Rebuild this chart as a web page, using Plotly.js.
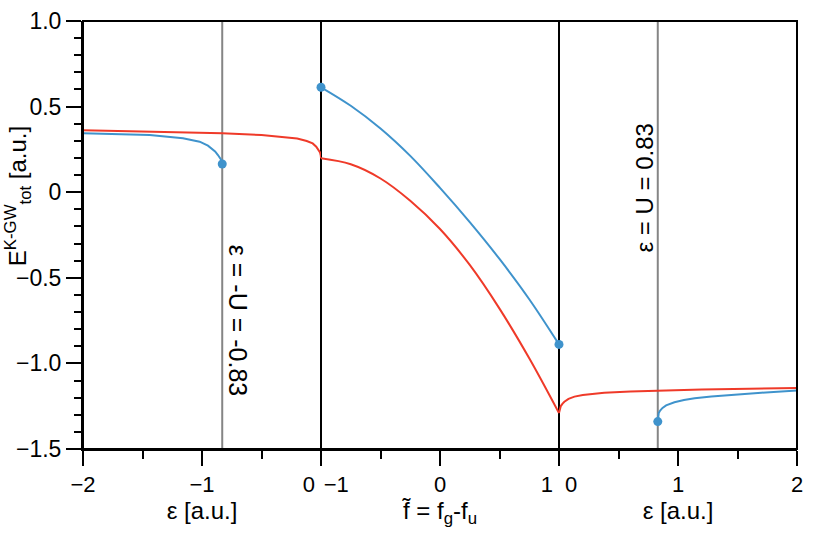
<!DOCTYPE html>
<html>
<head>
<meta charset="utf-8">
<script src="https://cdn.plot.ly/plotly-3.0.1.min.js"></script>
<style>
  html, body { margin: 0; padding: 0; background: #fff; }
  #graph { width: 830px; height: 534px; }
</style>
</head>
<body>
<div id="graph"></div>
<script>
const U = 0.83;

// left panel: epsilon < 0
const epsLeftBlue = [-2, -1.7, -1.44, -1.16, -1.02, -0.95, -0.92, -0.89, -0.866, -0.85, -0.838, -0.832, -0.83];
const eLeftBlue   = [0.344, 0.340, 0.334, 0.315, 0.295, 0.272, 0.256, 0.238, 0.217, 0.203, 0.188, 0.176, 0.165];
const epsLeftRed  = [-2, -1.44, -0.83, -0.5, -0.32, -0.2, -0.12, -0.07, -0.04, -0.02, -0.008, -0.002, 0];
const eLeftRed    = [0.362, 0.353, 0.344, 0.334, 0.324, 0.313, 0.299, 0.285, 0.266, 0.248, 0.232, 0.215, 0.198];

// middle panel: f~ = fg - fu
const fMid     = [-1, -0.75, -0.5, -0.25, 0, 0.25, 0.5, 0.75, 1];
const eMidBlue = [0.613, 0.505, 0.372, 0.212, 0.025, -0.175, -0.39, -0.625, -0.889];
const eMidRed  = [0.198, 0.163, 0.08, -0.05, -0.215, -0.425, -0.68, -0.97, -1.29];

// right panel: epsilon > 0
const epsRightRed  = [0, 0.005, 0.015, 0.03, 0.045, 0.08, 0.13, 0.2, 0.38, 0.6, 0.83, 1.2, 1.6, 2];
const eRightRed    = [-1.29, -1.268, -1.249, -1.235, -1.224, -1.207, -1.194, -1.184, -1.171, -1.164, -1.159, -1.153, -1.148, -1.144];
const epsRightBlue = [0.83, 0.832, 0.838, 0.85, 0.87, 0.9, 0.97, 1.05, 1.14, 1.28, 1.42, 1.7, 2];
const eRightBlue   = [-1.34, -1.31, -1.29, -1.275, -1.26, -1.245, -1.227, -1.214, -1.204, -1.194, -1.185, -1.171, -1.159];

// tick labels
const yTickVals = [-1.5, -1, -0.5, 0, 0.5, 1];
const yTickText = ['\u22121.5', '\u22121.0', '\u22120.5', '0', '0.5', '1.0'];
const nb = n => '\u00a0'.repeat(n);
const xLeftTicks  = [-2, -1, 0];
const xLeftText   = ['\u22122', '\u22121', '0' + nb(4)];
const xMidTicks   = [-1, 0, 1];
const xMidText    = [nb(5) + '\u22121', '0', '1' + nb(4)];
const xRightTicks = [0, 1, 2];
const xRightText  = [nb(4) + '0', '1', '2'];

const blue = '#3f93cc';
const red = '#ef3a29';
const FONT = 'Liberation Sans, Arial, Helvetica, sans-serif';

function line(x, y, xa, color, shape) {
    return {x: x, y: y, xaxis: xa, yaxis: 'y', type: 'scatter', mode: 'lines',
            line: {color: color, width: 2, shape: shape || 'linear'}, hoverinfo: 'skip'};
}
function dot(x, y, xa) {
    return {x: [x], y: [y], xaxis: xa, yaxis: 'y', type: 'scatter', mode: 'markers',
            marker: {color: blue, size: 9}, cliponaxis: false, hoverinfo: 'skip'};
}

const traces = [
    line(epsLeftRed, eLeftRed, 'x', red),
    line(epsLeftBlue, eLeftBlue, 'x', blue),
    line(fMid, eMidRed, 'x2', red, 'spline'),
    line(fMid, eMidBlue, 'x2', blue, 'spline'),
    line(epsRightRed, eRightRed, 'x3', red),
    line(epsRightBlue, eRightBlue, 'x3', blue),
    dot(epsLeftBlue[epsLeftBlue.length - 1], eLeftBlue[eLeftBlue.length - 1], 'x'),
    dot(fMid[0], eMidBlue[0], 'x2'),
    dot(fMid[fMid.length - 1], eMidBlue[eMidBlue.length - 1], 'x2'),
    dot(epsRightBlue[0], eRightBlue[0], 'x3')
];

function xAxis(dom, range, vals, text, title) {
    return {
        domain: dom, range: range, anchor: 'y',
        showline: true, linecolor: 'black', linewidth: 2,
        showgrid: false, zeroline: false,
        tickmode: 'array', tickvals: vals, ticktext: text,
        ticks: 'outside', ticklen: 15, tickwidth: 2, tickcolor: 'black',
        minor: {tickmode: 'linear', tick0: 0, dtick: 0.5, ticks: 'outside', ticklen: 8, tickwidth: 2, tickcolor: 'black'},
        tickfont: {size: 22, color: 'black', family: FONT},
        title: {text: title, font: {size: 24, color: 'black', family: FONT}, standoff: 4}
    };
}

const vline = (xref, x, color) => ({type: 'line', xref: xref, yref: 'paper', x0: x, x1: x, y0: 0, y1: 1,
                                    line: {color: color, width: 2}, layer: 'below'});

const layout = {
    width: 830, height: 534,
    margin: {l: 83, r: 33, t: 21, b: 85},
    paper_bgcolor: 'white', plot_bgcolor: 'white',
    showlegend: false,
    font: {family: FONT, color: 'black'},
    xaxis: xAxis([0, 1/3], [-2, 0], xLeftTicks, xLeftText, '\u03b5 [a.u.]'),
    xaxis2: xAxis([1/3, 2/3], [-1, 1], xMidTicks, xMidText, 'f\u0303 = f<sub>g</sub>-f<sub>u</sub>'),
    xaxis3: xAxis([2/3, 1], [0, 2], xRightTicks, xRightText, '\u03b5 [a.u.]'),
    yaxis: {
        domain: [0, 1], range: [-1.5, 1], anchor: 'x',
        showline: true, linecolor: 'black', linewidth: 2,
        showgrid: false, zeroline: false,
        tickmode: 'array', tickvals: yTickVals, ticktext: yTickText,
        ticks: 'outside', ticklen: 15, tickwidth: 2, tickcolor: 'black',
        minor: {tickmode: 'linear', tick0: 0, dtick: 0.1, ticks: 'outside', ticklen: 7, tickwidth: 2, tickcolor: 'black'},
        tickfont: {size: 23, color: 'black', family: FONT}
    },
    shapes: [
        {type: 'rect', xref: 'paper', yref: 'paper', x0: 0, x1: 1, y0: 0, y1: 1, line: {color: 'black', width: 2}},
        vline('paper', 1/3, 'black'),
        vline('paper', 2/3, 'black'),
        vline('x', -U, '#858585'),
        vline('x3', U, '#858585')
    ],
    annotations: [
        {xref: 'paper', yref: 'paper', x: -0.09, y: 0.59, xanchor: 'center', yanchor: 'middle',
         text: 'E<sup>K-GW</sup><sub>tot</sub> [a.u.]', textangle: -90, showarrow: false,
         font: {size: 24, color: 'black', family: FONT}},
        {xref: 'x', yref: 'y', x: -U + 0.14, y: -0.75, xanchor: 'center', yanchor: 'middle',
         text: '\u03b5 = -U = -0.83', textangle: 90, showarrow: false,
         font: {size: 25, color: 'black', family: FONT}},
        {xref: 'x3', yref: 'y', x: U - 0.11, y: 0.025, xanchor: 'center', yanchor: 'middle',
         text: '\u03b5 = U = 0.83', textangle: -90, showarrow: false,
         font: {size: 24, color: 'black', family: FONT}}
    ]
};

Plotly.newPlot('graph', traces, layout, {staticPlot: true});
</script>
</body>
</html>
